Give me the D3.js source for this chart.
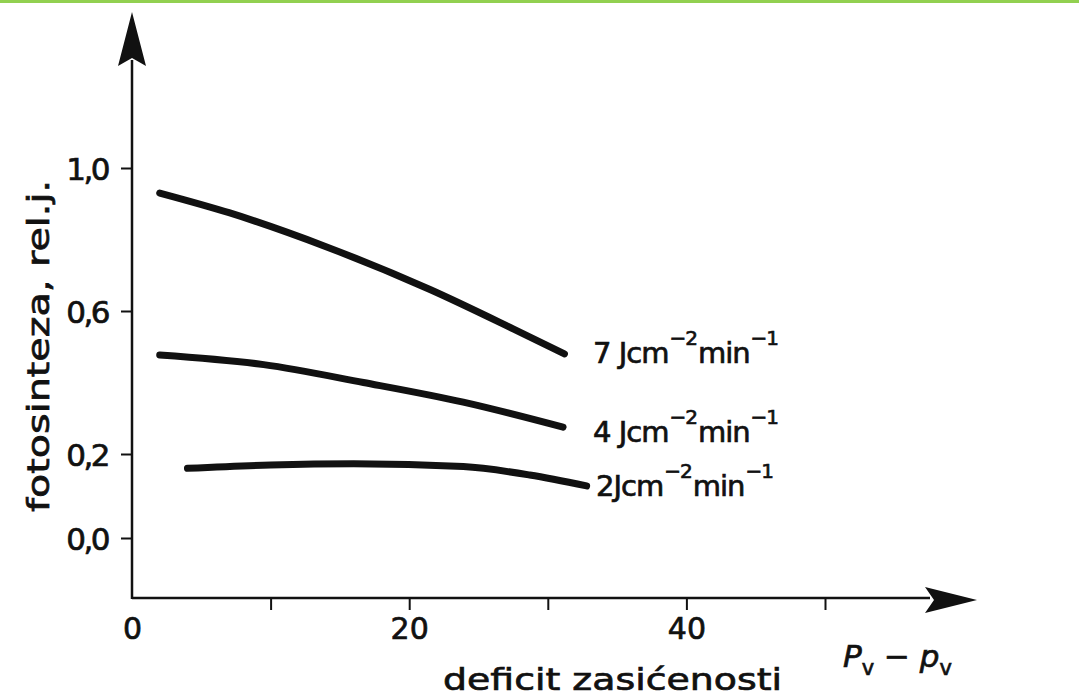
<!DOCTYPE html>
<html>
<head>
<meta charset="utf-8">
<script src="https://cdn.jsdelivr.net/npm/d3@7"></script>
<style>
  body { margin: 0; background: #fff; }
  text { font-family: "DejaVu Sans", sans-serif; fill: #111; stroke: #111; stroke-width: 0.7px; }
</style>
</head>
<body>
<script>
// data: x = deficit zasićenosti, y = fotosinteza (rel. j.)
const seriesNames = ["7", "4", "2"];
const curve7 = [[2, 0.93], [7, 0.875], [14, 0.78], [21.5, 0.66], [27.5, 0.55], [31.2, 0.48]];
const curve4 = [[2, 0.477], [9.5, 0.45], [16.7, 0.40], [23.9, 0.345], [31.1, 0.275]];
const curve2 = [[4, 0.166], [10, 0.174], [16, 0.177], [23.9, 0.17], [28.7, 0.15], [32.8, 0.124]];
const xTicks = [0, 10, 20, 30, 40, 50];
const xTickLabels = ["0", "", "20", "", "40", ""];
const yTicks = [0, 0.2, 0.6, 1.0];

const W = 1079, H = 697;

const svg = d3.select('body')
  .append('svg')
  .attr('width', W)
  .attr('height', H);

// green strip at the top
svg.append('rect')
  .attr('x', 0).attr('y', 0)
  .attr('width', W).attr('height', 3)
  .attr('fill', '#92d050');

const x = d3.scaleLinear().domain([0, 50]).range([132, 825]);
// the printed axis is not evenly spaced below 0.2
const y = d3.scaleLinear().domain([0, 0.2, 1.0]).range([538, 454, 168]);

const x0 = 132, yBase = 598;

// y axis line + arrow
svg.append('line')
  .attr('x1', x0).attr('x2', x0)
  .attr('y1', 60).attr('y2', yBase + 1)
  .attr('stroke', '#111').attr('stroke-width', 2.5);
svg.append('path')
  .attr('d', `M${x0},12 L${x0 - 14},66 L${x0},58 L${x0 + 14},66 Z`)
  .attr('fill', '#111');

// x axis line + arrow
svg.append('line')
  .attr('x1', x0).attr('x2', 930)
  .attr('y1', yBase).attr('y2', yBase)
  .attr('stroke', '#111').attr('stroke-width', 2.5);
svg.append('path')
  .attr('d', `M977,${yBase + 2} L925,${yBase - 11} L934,${yBase + 2} L925,${yBase + 15} Z`)
  .attr('fill', '#111');

// y axis ticks
const yAxis = d3.axisLeft(y)
  .tickValues(yTicks)
  .tickSize(11)
  .tickPadding(13)
  .tickFormat(d => d3.format('.1f')(d).replace('.', ','));
const gy = svg.append('g')
  .attr('transform', `translate(${x0},0)`)
  .call(yAxis);
gy.select('.domain').remove();
gy.selectAll('.tick line').attr('stroke', '#111').attr('stroke-width', 2);
gy.selectAll('.tick text')
  .attr('font-size', 31)
  .attr('font-family', 'DejaVu Sans')
  .attr('letter-spacing', -2.5)
  .attr('fill', '#111')
  .attr('dy', '0.36em');

// x axis ticks
const xAxis = d3.axisBottom(x)
  .tickValues(xTicks)
  .tickSize(12)
  .tickPadding(8)
  .tickFormat((d, i) => xTickLabels[i]);
const gx = svg.append('g')
  .attr('transform', `translate(0,${yBase})`)
  .call(xAxis);
gx.select('.domain').remove();
gx.selectAll('.tick line').attr('stroke', '#111').attr('stroke-width', 2);
gx.select('.tick:first-of-type line').remove();
gx.selectAll('.tick text')
  .attr('font-size', 30)
  .attr('font-family', 'DejaVu Sans')
  .attr('fill', '#111');

// curves
const line = d3.line()
  .x(d => x(d[0]))
  .y(d => y(d[1]))
  .curve(d3.curveMonotoneX);

const curves = [curve7, curve4, curve2];
svg.selectAll('path.curve')
  .data(curves)
  .enter()
  .append('path')
  .attr('class', 'curve')
  .attr('d', line)
  .attr('fill', 'none')
  .attr('stroke', '#111')
  .attr('stroke-width', 7)
  .attr('stroke-linecap', 'round');

// curve labels
const labelPos = [[593, 363], [593, 442], [596, 496]];
seriesNames.forEach((s, i) => {
  const t = svg.append('text')
    .attr('x', labelPos[i][0])
    .attr('y', labelPos[i][1])
    .attr('font-size', 29)
    .attr('letter-spacing', -1);
  t.append('tspan').text(s + (i < 2 ? ' ' : '') + 'Jcm');
  t.append('tspan').attr('dy', -18).attr('dx', 1).attr('font-size', 20).text('−2');
  t.append('tspan').attr('dy', 18).attr('dx', 1).text('min');
  t.append('tspan').attr('dy', -18).attr('dx', 1).attr('font-size', 20).text('−1');
});

// axis titles
svg.append('text')
  .attr('transform', 'translate(49,512) rotate(-90)')
  .attr('font-size', 31)
  .attr('textLength', 332)
  .attr('lengthAdjust', 'spacingAndGlyphs')
  .text('fotosinteza, rel.j.');

svg.append('text')
  .attr('x', 443)
  .attr('y', 690)
  .attr('font-size', 31)
  .attr('textLength', 339)
  .attr('lengthAdjust', 'spacingAndGlyphs')
  .text('deficit  zasićenosti');

const pv = svg.append('text')
  .attr('x', 843)
  .attr('y', 667)
  .attr('font-size', 31)
  .attr('font-style', 'italic');
pv.append('tspan').text('P');
pv.append('tspan').attr('dy', 8).attr('font-size', 21).attr('font-style', 'normal').text('v');
pv.append('tspan').attr('dy', -8).text(' − p');
pv.append('tspan').attr('dy', 8).attr('font-size', 21).attr('font-style', 'normal').text('v');
</script>
</body>
</html>
